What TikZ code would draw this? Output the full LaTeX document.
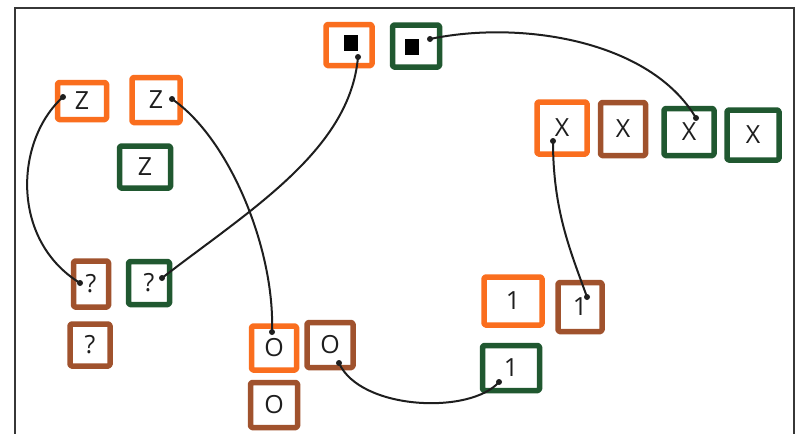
\documentclass[tikz,border=0pt]{standalone}
\usepackage{fontspec}
\setmainfont{Open Sans}
\definecolor{mkorange}{RGB}{250,110,30}
\definecolor{mkbrown}{RGB}{160,82,45}
\definecolor{mkgreen}{RGB}{32,88,48}
\definecolor{frame}{RGB}{55,55,55}
\definecolor{ink}{RGB}{30,30,30}
\begin{document}
\begin{tikzpicture}[x=1pt,y=-1pt,
  box/.style={draw,line width=5.5pt,line join=round,rounded corners=1.5pt,inner sep=0pt,font=\fontsize{25}{27}\selectfont,text=ink},
  ob/.style={box,draw=mkorange},
  bb/.style={box,draw=mkbrown},
  gb/.style={box,draw=mkgreen},
  wire/.style={draw=ink,line width=2pt},
  dot/.style={fill=ink,circle,inner sep=0pt,minimum size=6pt},
  blk/.style={fill=black,inner sep=0pt,minimum width=14pt,minimum height=16pt}]
\useasboundingbox (0,0) rectangle (796,434);
\fill[white] (0,0) rectangle (796,434);
\draw[frame,line width=2pt] (15,434) -- (15,8) -- (794,8) -- (794,434);
% boxes
\node[ob,minimum width=46pt,minimum height=41pt] (sqO) at (349,45) {};
\node[gb,minimum width=47pt,minimum height=42pt] (sqG) at (416,46) {};
\node[blk] (bkO) at (351,43) {};
\node[blk] (bkG) at (412,47) {};
\node[ob,minimum width=49pt,minimum height=37pt] (z1) at (82,101) {Z};
\node[ob,minimum width=48pt,minimum height=45pt] (z2) at (156,100) {Z};
\node[gb,minimum width=51pt,minimum height=42pt] (z3) at (145,167) {Z};
\node[bb,minimum width=35pt,minimum height=46pt] (q1) at (91,284) {?};
\node[gb,minimum width=41pt,minimum height=43pt] (q2) at (149,283) {?};
\node[bb,minimum width=40pt,minimum height=42pt] (q3) at (90,345) {?};
\node[ob,minimum width=45pt,minimum height=44pt] (o1) at (274,348) {O};
\node[bb,minimum width=46pt,minimum height=45pt] (o2) at (330,345) {O};
\node[bb,minimum width=47pt,minimum height=45pt] (o3) at (274,405) {O};
\node[ob,minimum width=58pt,minimum height=48pt] (l1) at (513,301) {1};
\node[bb,minimum width=44pt,minimum height=49pt] (l2) at (580,307) {1};
\node[gb,minimum width=57pt,minimum height=45pt] (l3) at (511,368) {1};
\node[ob,minimum width=50pt,minimum height=52pt] (x1) at (562,128) {X};
\node[bb,minimum width=45pt,minimum height=53pt] (x2) at (623,129) {X};
\node[gb,minimum width=50pt,minimum height=47pt] (x3) at (689,132) {X};
\node[gb,minimum width=52pt,minimum height=50pt] (x4) at (753,135) {X};
% connector end points
\coordinate (d1a) at ([shift={(-19,-4)}]z1.center);
\coordinate (d1b) at ([shift={(-11,-1)}]q1.center);
\coordinate (d2a) at ([shift={(16,-1)}]z2.center);
\coordinate (d2b) at ([shift={(-2,-16)}]o1.center);
\coordinate (d3a) at ([shift={(9,12)}]sqO.center);
\coordinate (d3b) at ([shift={(13,-5)}]q2.center);
\coordinate (d4a) at ([shift={(14,-7)}]sqG.center);
\coordinate (d4b) at ([shift={(7,-14)}]x3.center);
\coordinate (d5a) at ([shift={(-9,13)}]x1.center);
\coordinate (d5b) at ([shift={(7,-10)}]l2.center);
\coordinate (d6a) at ([shift={(9,18)}]o2.center);
\coordinate (d6b) at ([shift={(-12,14)}]l3.center);
% connectors
\draw[wire] (d1a) .. controls ([shift={(-48,43)}]d1a) and ([shift={(-70,-43)}]d1b) .. (d1b);
\draw[wire] (d2a) .. controls ([shift={(58,40)}]d2a) and ([shift={(3,-82)}]d2b) .. (d2b);
\draw[wire] (d3a) .. controls ([shift={(-8,93)}]d3a) and ([shift={(88,-68)}]d3b) .. (d3b);
\draw[wire] (d4a) .. controls ([shift={(90,-19)}]d4a) and ([shift={(-46,-78)}]d4b) .. (d4b);
\draw[wire] (d5a) .. controls ([shift={(0,69)}]d5a) and ([shift={(-17,-47)}]d5b) .. (d5b);
\draw[wire] (d6a) .. controls ([shift={(21,47)}]d6a) and ([shift={(-29,33)}]d6b) .. (d6b);
\foreach \d in {d1a,d1b,d2a,d2b,d3a,d3b,d4a,d4b,d5a,d5b,d6a,d6b}
  \node[dot] at (\d) {};
\end{tikzpicture}
\end{document}
